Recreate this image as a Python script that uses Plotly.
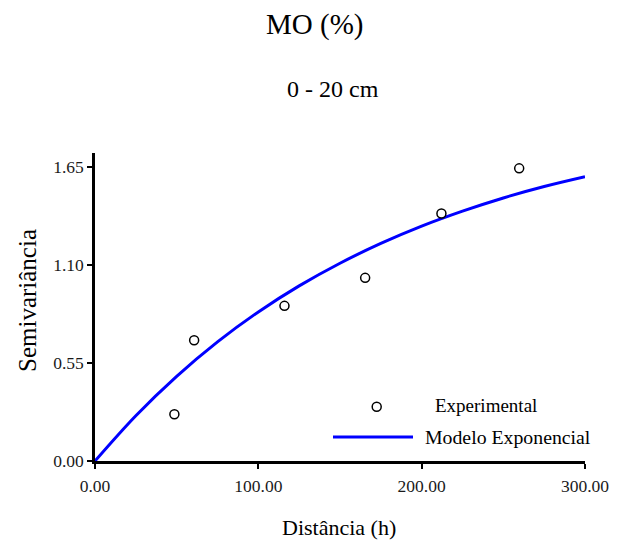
import plotly.graph_objects as go

# Experimental semivariogram points
exp_dist = [48.6, 60.7, 116.0, 165.4, 212.1, 259.7]
exp_gamma = [0.262, 0.677, 0.870, 1.027, 1.388, 1.641]

# Fitted exponential model curve
model_dist = [0, 25, 50, 75, 100, 125, 150, 175, 200, 225, 250, 275, 300]
model_gamma = [0.0, 0.254, 0.475, 0.668, 0.836, 0.982, 1.109, 1.220, 1.317, 1.401, 1.475, 1.539, 1.594]

x_ticks = [0, 100, 200, 300]
x_tick_labels = ["0.00", "100.00", "200.00", "300.00"]
y_ticks = [0, 0.55, 1.10, 1.65]
y_tick_labels = ["0.00", "0.55", "1.10", "1.65"]

FONT = "Liberation Serif, Times New Roman, serif"
OFF = 8  # default page body margin
W, H = 618 - 2 * OFF, 548 - 2 * OFF
# plot area in page pixel coordinates
PL, PR, PT, PB = 95, 585, 153, 461
L, R, T, B = PL - OFF, W - (PR - OFF), PT - OFF, H - (PB - OFF)
PW, PH = PR - PL, PB - PT


def px(xp):
    return (xp - PL) / PW


def py(yp):
    return (PB - yp) / PH


fig = go.Figure()
fig.add_trace(go.Scatter(
    x=model_dist, y=model_gamma, mode="lines", name="Modelo Exponencial",
    line=dict(color="#0000ff", width=3, shape="spline"), showlegend=False,
))
fig.add_trace(go.Scatter(
    x=exp_dist, y=exp_gamma, mode="markers", name="Experimental",
    marker=dict(symbol="circle", size=9, color="white", line=dict(color="black", width=1.5)),
    showlegend=False,
))

annotations = [
    dict(text="MO (%)", x=px(314), y=py(24), font=dict(size=29)),
    dict(text="0 - 20 cm", x=px(332.5), y=py(89), font=dict(size=24)),
    dict(text="Distância (h)", x=px(339), y=py(527), font=dict(size=22)),
    dict(text="Semivariância", x=px(27), y=py(301), font=dict(size=25), textangle=-90),
    dict(text="Experimental", x=px(433), y=py(405), xanchor="left", font=dict(size=19)),
    dict(text="Modelo Exponencial", x=px(423), y=py(436.5), xanchor="left", font=dict(size=19.8)),
]
for a in annotations:
    a.setdefault("xanchor", "center")
    a.update(xref="paper", yref="paper", yanchor="middle", showarrow=False)
    a["font"].update(family=FONT, color="black")

shapes = [
    dict(type="line", xref="paper", yref="paper", x0=px(333), x1=px(413), y0=py(437), y1=py(437),
         line=dict(color="#0000ff", width=3)),
    dict(type="circle", xref="paper", yref="paper", xsizemode="pixel", ysizemode="pixel",
         xanchor=px(376.7), yanchor=py(406.7), x0=-4.5, x1=4.5, y0=-4.5, y1=4.5,
         line=dict(color="black", width=1.5), fillcolor="white"),
]

axis_common = dict(
    showgrid=False, zeroline=False, showline=True, linecolor="black", linewidth=2.5,
    ticks="outside", ticklen=5, tickwidth=2, tickcolor="black", automargin=False,
    ticklabeloverflow="allow",
    tickfont=dict(family=FONT, size=17.5, color="#1a1a1a"),
)

fig.update_layout(
    width=W, height=H,
    margin=dict(l=L, r=R, t=T, b=B),
    paper_bgcolor="white", plot_bgcolor="white",
    showlegend=False,
    annotations=annotations,
    shapes=shapes,
    xaxis=dict(range=[0, 300], tickvals=x_ticks, ticktext=x_tick_labels,
               ticklabelstandoff=2, **axis_common),
    yaxis=dict(range=[0, 1.727], tickvals=y_ticks, ticktext=y_tick_labels, **axis_common),
)

fig.write_html("out.html")
